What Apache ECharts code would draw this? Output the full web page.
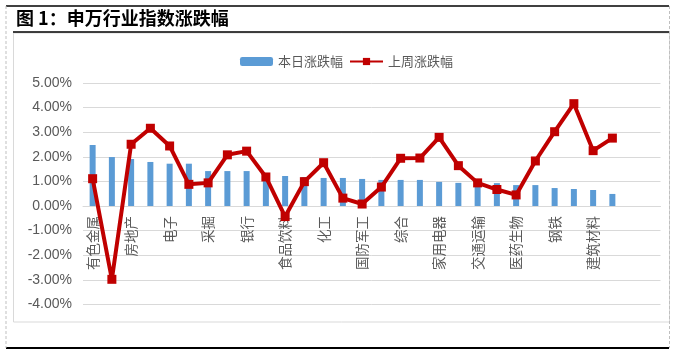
<!DOCTYPE html>
<html>
<head>
<meta charset="utf-8">
<script src="https://cdn.jsdelivr.net/npm/echarts@6/dist/echarts.min.js"></script>
<style>
html,body{margin:0;padding:0;background:#fff;}
#c{width:675px;height:355px;}
</style>
</head>
<body>
<div id="c"></div>
<script>
// Categories (28 Shenwan industries + 2 empty slots as in the source chart)
var categories = ['有色金属','非银金融','房地产','建筑装饰','电子','计算机','采掘','通信','银行','公用事业',
  '食品饮料','电气设备','化工','机械设备','国防军工','传媒','综合','汽车','家用电器','轻工制造',
  '交通运输','纺织服装','医药生物','商业贸易','钢铁','农林牧渔','建筑材料','休闲服务','',''];
var seriesNames = ['本日涨跌幅','上周涨跌幅'];
// 本日涨跌幅 (%)
var dailyChange = [2.48,1.99,1.91,1.79,1.72,1.72,1.42,1.42,1.42,1.24,
  1.22,1.18,1.14,1.14,1.10,1.06,1.06,1.06,0.98,0.94,
  0.93,0.93,0.85,0.85,0.73,0.69,0.65,0.49];
// 上周涨跌幅 (%)
var weeklyChange = [1.11,-2.98,2.51,3.16,2.44,0.88,0.94,2.08,2.23,1.18,
  -0.43,0.99,1.76,0.32,0.08,0.77,1.94,1.95,2.79,1.64,
  0.94,0.67,0.45,1.83,3.02,4.16,2.25,2.76];
var yTicks = {min:-4, max:5, interval:1};

var chart = echarts.init(document.getElementById('c'));
var fontNum = 'Liberation Sans, Arial, Noto Sans CJK SC, sans-serif';
var fontCJK = 'Noto Sans CJK SC, sans-serif';
chart.setOption({
  animation:false,
  backgroundColor:'#ffffff',
  graphic:[
    {type:'rect', shape:{x:13.5,y:33,width:656,height:289}, style:{fill:'none',stroke:'#D9D9D9',lineWidth:1}, silent:true, z:-1},
    {type:'line', shape:{x1:6,y1:6,x2:669,y2:6}, style:{stroke:'#000',lineWidth:1.5}},
    {type:'line', shape:{x1:13,y1:32,x2:669,y2:32}, style:{stroke:'#000',lineWidth:1.5}},
    {type:'line', shape:{x1:6,y1:348,x2:669,y2:348}, style:{stroke:'#000',lineWidth:2}},
    {type:'line', shape:{x1:6,y1:6,x2:6,y2:348}, style:{stroke:'#BFBFBF',lineWidth:1,lineDash:[3,2]}},
    {type:'line', shape:{x1:669.5,y1:6,x2:669.5,y2:348}, style:{stroke:'#BFBFBF',lineWidth:1,lineDash:[3,2]}},
    {type:'text', left:16, top:9, style:{text:'图 1：申万行业指数涨跌幅', font:'bold 18px "Noto Sans CJK SC", sans-serif', fill:'#000'}}
  ],
  legend:{
    data:seriesNames,
    left:235, top:50,
    itemWidth:33, itemHeight:9, itemGap:6,
    textStyle:{color:'#595959', fontSize:13, fontFamily:fontCJK}
  },
  grid:{left:83, right:14.5, top:83, bottom:50.6, containLabel:false, outerBoundsMode:'none'},
  xAxis:{
    type:'category',
    data:categories,
    position:'bottom',
    axisLine:{show:true, onZero:true, lineStyle:{color:'#D9D9D9', width:1}},
    axisTick:{show:false},
    splitLine:{show:false},
    axisLabel:{interval:1, rotate:90, margin:10, color:'#595959', fontSize:13.5, fontFamily:fontCJK}
  },
  yAxis:{
    type:'value',
    min:yTicks.min, max:yTicks.max, interval:yTicks.interval,
    axisLine:{show:false},
    axisTick:{show:false},
    splitLine:{lineStyle:{color:'#D9D9D9', width:1}},
    axisLabel:{color:'#595959', fontSize:14, fontFamily:fontNum, margin:11,
      formatter:function(v){return v.toFixed(2)+'%';}}
  },
  series:[
    {name:seriesNames[0], type:'bar', data:dailyChange, barWidth:6,
      itemStyle:{color:'#5B9BD5'}, legendIcon:'rect'},
    {name:seriesNames[1], type:'line', data:weeklyChange,
      symbol:'rect', symbolSize:9, lineStyle:{color:'#C00000', width:4},
      itemStyle:{color:'#C00000'}, z:5}
  ]
});
// Move the category axis onto the zero line (measured through the library's own scale)
var zeroY = chart.convertToPixel({yAxisIndex:0}, 0);
var bottomY = chart.convertToPixel({yAxisIndex:0}, yTicks.min);
chart.setOption({xAxis:{axisLine:{onZero:false}, offset:-(bottomY - zeroY)}});
</script>
</body>
</html>
